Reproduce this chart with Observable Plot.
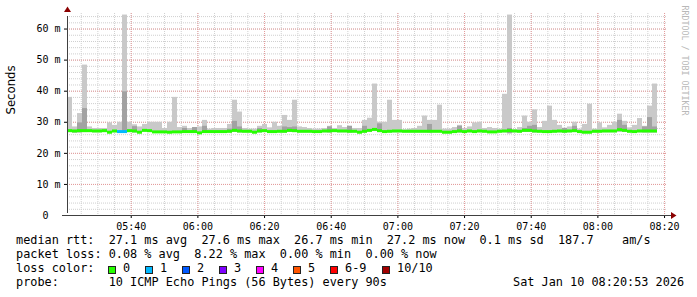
<!DOCTYPE html>
<html><head><meta charset="utf-8">
<script src="https://cdn.jsdelivr.net/npm/d3@7"></script>
<script src="https://cdn.jsdelivr.net/npm/@observablehq/plot@0.6"></script>
<style>
html,body{margin:0;padding:0;background:#fff;}
#wrap{position:relative;width:697px;height:297px;overflow:hidden;background:#fff;}
#chart{position:absolute;left:0;top:0;}
.ft{position:absolute;font-family:"DejaVu Sans Mono",monospace;font-size:11.85px;color:#000;white-space:pre;line-height:1;}
.box{position:absolute;width:6px;height:6px;border:1px solid #222;}
</style></head><body><div id="wrap"><div id="chart"></div></div>
<script>
// ---- data (90 s steps from 05:20:53) ----
const median = [27.3,27.2,27.3,27.3,27.3,27.2,27.2,27.3,26.8,27.2,
 27.0,27.0,27.3,27.2,26.8,27.4,27.3,26.9,26.9,26.9,
 26.8,26.9,26.9,27.0,27.0,27.0,26.6,27.0,27.0,27.0,
 27.0,27.0,27.1,27.4,27.2,27.1,27.1,26.8,27.2,27.3,
 27.0,27.0,27.1,27.1,27.4,27.3,27.1,27.1,27.1,27.0,
 27.0,27.2,27.2,27.3,27.2,27.2,27.1,27.1,26.8,27.1,
 27.4,27.7,27.3,27.0,27.1,27.2,27.2,27.1,27.1,27.1,
 27.1,27.1,27.1,27.1,27.1,26.8,26.8,27.0,27.2,27.0,
 27.2,27.0,27.2,27.1,26.9,26.9,27.1,27.2,27.3,27.2,
 27.1,27.4,27.4,27.2,27.1,27.0,27.0,27.1,27.2,27.1,
 27.2,27.3,27.0,26.8,26.8,27.1,27.1,27.2,27.2,27.2,
 27.6,27.4,27.1,27.0,27.2,27.2,27.2,27.2];
const smokeMax = [38.0,28.5,32.8,48.4,28.5,28.0,28.0,28.0,29.8,29.0,
 30.0,64.5,30.0,29.2,28.5,29.3,30.0,30.0,30.0,28.0,
 30.0,38.0,28.3,28.7,28.0,28.3,28.5,30.6,27.8,28.0,
 28.0,28.0,29.3,37.1,33.3,28.0,27.8,27.8,28.7,29.3,
 28.2,30.0,28.7,32.2,30.6,37.1,28.5,28.3,28.0,27.8,
 27.8,28.0,28.7,28.0,28.9,28.3,28.7,28.0,28.0,30.6,
 31.3,42.3,30.0,30.0,37.1,30.6,30.6,27.6,27.8,28.0,
 28.7,32.0,30.6,30.6,35.5,27.8,27.8,28.3,29.0,28.0,
 28.5,29.8,30.0,28.0,28.3,28.0,27.8,39.0,64.5,27.6,
 28.3,32.0,30.0,34.0,28.3,30.3,35.2,30.6,29.0,28.1,
 28.5,30.0,27.8,29.3,35.8,27.8,29.8,28.2,29.0,30.0,
 32.6,30.3,28.2,29.0,31.2,28.7,35.2,42.3];
const smokeMin = [26.7,26.4,26.6,26.7,26.7,26.6,26.6,26.7,26.3,26.6,
 26.5,26.4,26.7,26.6,26.3,26.8,26.7,26.4,26.4,26.4,
 26.3,26.4,26.4,26.5,26.5,26.5,26.1,26.5,26.5,26.5,
 26.5,26.5,26.6,26.8,26.6,26.6,26.6,26.3,26.6,26.7,
 26.5,26.5,26.6,26.6,26.8,26.7,26.6,26.6,26.6,26.5,
 26.5,26.6,26.6,26.7,26.6,26.6,26.6,26.6,26.3,26.6,
 26.8,27.0,26.7,26.5,26.6,26.6,26.6,26.6,26.6,26.6,
 26.6,26.6,26.6,26.6,26.6,26.3,26.3,26.5,26.6,26.5,
 26.6,26.5,26.6,26.6,26.4,26.4,26.6,26.6,26.3,26.6,
 26.6,26.8,26.8,26.6,26.6,26.5,26.5,26.6,26.6,26.6,
 26.6,26.7,26.5,26.3,26.3,26.6,26.6,26.6,26.6,26.6,
 26.9,26.8,26.6,26.5,26.6,26.6,26.6,26.6];
const innerSteps  = [2,3,11,13,23,25,27,32,33,34,38,43,44,45,52,56,59,62,72,78,88,91,92,93,99,101,110,111,115,116,117];
const innerValues = [29.8,34.4,39.8,28.6,28.0,28.3,28.7,27.8,30.3,28.5,28.0,28.5,28.3,28.5,28.5,28.7,28.7,29.5,29.3,28.7,28.0,28.0,28.7,29.0,28.0,28.7,30.6,29.0,28.5,31.5,28.5];
const lossSteps = [10,11];
const lossValues = [1,1];
const lossLabels = ["0","1","2","3","4","5","6-9","10/10"];
const lossColors = ["#26ff00","#00b8ff","#0059ff","#7e00ff","#ff00ff","#ff5500","#ff0000","#a10000"];
const xTickLabels = ["05:40","06:00","06:20","06:40","07:00","07:20","07:40","08:00","08:20"];
const yTicks = [0,10,20,30,40,50,60];
const yMajorGrid = [10,20,30,40,50,60];

// ---- build ----
const start = Date.UTC(2026,0,10,5,20,53);
const end = start + 3*3600*1000;
const stepMs = 90000;
const innerMap = new Map(innerSteps.map((s,i)=>[s,innerValues[i]]));
const lossMap = new Map(lossSteps.map((s,i)=>[s,lossValues[i]]));
const rows = median.map((m,k)=>({
  t0:new Date(start+k*stepMs), t1:new Date(start+(k+1)*stepMs),
  med:m, lo:smokeMin[k], hi:smokeMax[k], mid:innerMap.get(k), loss:lossMap.get(k)||0
}));
const innerRows = rows.filter(r=>r.mid!=null);
const xTicks = xTickLabels.map(s=>{const [h,m]=s.split(":").map(Number);return new Date(Date.UTC(2026,0,10,h,m));});
const xMinor = d3.utcMinute.every(5).range(new Date(start), new Date(end));
const yMinor = d3.range(2,65,2);
const lossColor = l => lossColors[l];

const arrowUp = {draw(ctx,size){ctx.moveTo(0,-4);ctx.lineTo(3.5,1.5);ctx.lineTo(-3.5,1.5);ctx.closePath();}};
const arrowRight = {draw(ctx,size){ctx.moveTo(4,0);ctx.lineTo(-1.5,3.5);ctx.lineTo(-1.5,-3.5);ctx.closePath();}};

const chart = Plot.plot({
  width:697, height:232,
  marginLeft:67, marginRight:30, marginTop:13, marginBottom:17,
  style:{fontFamily:"DejaVu Sans Mono", fontSize:"10px", color:"#000", background:"#fff", overflow:"visible"},
  x:{type:"utc", domain:[new Date(start), new Date(end)], ticks:xTicks, tickFormat:d3.utcFormat("%H:%M"), tickSize:3, tickPadding:4, label:null},
  y:{domain:[0,65], ticks:yTicks, tickFormat:d=>d===0?"0\u00a0\u00a0":d+" m", tickSize:3, tickPadding:4, label:null},
  marks:[
    Plot.ruleX(xMinor, {stroke:"#cfcfcf", strokeDasharray:"1,1"}),
    Plot.ruleY(yMinor, {stroke:"#cfcfcf", strokeDasharray:"1,1"}),
    Plot.ruleX(xTicks, {stroke:"#e59a9a", strokeDasharray:"1,1"}),
    Plot.ruleY(yMajorGrid, {stroke:"#e59a9a", strokeDasharray:"1,1"}),
    Plot.rect(rows, {x1:"t0", x2:"t1", y1:"lo", y2:"hi", fill:"#c9c9c9"}),
    Plot.rect(innerRows, {x1:"t0", x2:"t1", y1:"lo", y2:"mid", fill:"#a2a2a2"}),
    Plot.ruleY(rows, {x1:"t0", x2:"t1", y:"med", stroke:d=>lossColor(d.loss), strokeWidth:3}),
    Plot.ruleY([0], {stroke:"#404040", insetLeft:-5, insetRight:-4}),
    Plot.ruleX([new Date(start)], {y1:()=>0, y2:()=>65, stroke:"#404040", insetTop:-2, insetBottom:-3}),
    Plot.dot([new Date(start)], {x:d=>d, y:()=>65, dy:-3, symbol:arrowUp, r:3, fill:"#8b0000", stroke:null}),
    Plot.dot([new Date(end)], {x:d=>d, y:()=>0, dx:5, symbol:arrowRight, r:3, fill:"#8b0000", stroke:null}),
    Plot.text(["Seconds"], {frameAnchor:"left", rotate:-90, dx:-56, dy:0, fontFamily:"DejaVu Sans", fontSize:11.7, fill:"#000"}),
    Plot.text(["RRDTOOL / TOBI OETIKER"], {frameAnchor:"top-right", rotate:90, textAnchor:"start", dx:20, dy:-8, fontFamily:"DejaVu Sans Mono", fontSize:8.3, fill:"#b8b8b8"})
  ]
});
document.getElementById("chart").appendChild(chart);

// ---- footer text ----
const wrap = document.getElementById("wrap");
function addText(txt, left, top){const d=document.createElement("div");d.className="ft";d.textContent=txt;d.style.left=left+"px";d.style.top=top+"px";wrap.appendChild(d);}
addText("median rtt:  27.1 ms avg  27.6 ms max  26.7 ms min  27.2 ms now  0.1 ms sd  187.7    am/s", 16, 235);
addText("packet loss: 0.08 % avg  8.22 % max  0.00 % min  0.00 % now", 16, 249);
addText("loss color:", 16, 263);
addText("probe:       10 ICMP Echo Pings (56 Bytes) every 90s", 16, 277);
addText("Sat Jan 10 08:20:53 2026", 513, 277);
const boxX = [108,145,182,219,256,293,330,382];
lossLabels.forEach((lab,i)=>{
  const b=document.createElement("div");b.className="box";b.style.left=boxX[i]+"px";b.style.top="266px";b.style.background=lossColors[i];wrap.appendChild(b);
  addText(lab, boxX[i]+15, 263);
});
</script></body></html>
